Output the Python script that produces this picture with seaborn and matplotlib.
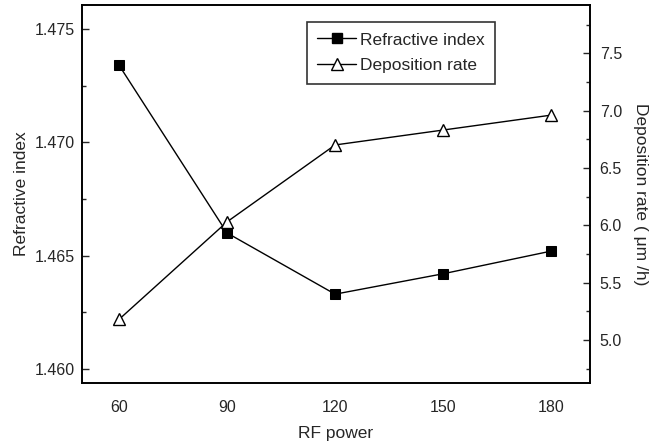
import matplotlib
matplotlib.use("Agg")
import matplotlib.pyplot as plt
import seaborn as sns
import pandas as pd
from matplotlib.ticker import MultipleLocator
from matplotlib.lines import Line2D

rf_power = [60, 90, 120, 150, 180]
refractive_index = [1.4734, 1.4660, 1.4633, 1.4642, 1.4652]
deposition_rate = [5.18, 6.03, 6.70, 6.83, 6.96]

sns.set_style("white")
plt.rcParams['font.family'] = ['Liberation Sans', 'DejaVu Sans']

df = pd.DataFrame({"RF power": rf_power, "ri": refractive_index, "dr": deposition_rate})

fig = plt.figure(figsize=(6.53, 4.48), dpi=100)
ax = fig.add_axes([82/653, 65/448, (590-82)/653, (383-5)/448])
ax2 = ax.twinx()

sns.lineplot(data=df, x="RF power", y="ri", ax=ax, color="black", lw=1,
             marker="s", markersize=7, markeredgecolor="black", markerfacecolor="black")
sns.lineplot(data=df, x="RF power", y="dr", ax=ax2, color="black", lw=1,
             marker="^", markersize=8, markeredgecolor="black", markerfacecolor="white",
             markeredgewidth=1)

ax.set_xlim(49.7, 190.8)
ax.set_ylim(1.45938, 1.47606)
ax2.set_ylim(4.625, 7.92)

ax.set_xticks(rf_power)
ax.xaxis.set_minor_locator(MultipleLocator(15))
ax.yaxis.set_major_locator(MultipleLocator(0.005))
ax.yaxis.set_minor_locator(MultipleLocator(0.0025))
ax.yaxis.set_major_formatter(matplotlib.ticker.FormatStrFormatter('%.3f'))
ax2.yaxis.set_major_locator(MultipleLocator(0.5))
ax2.yaxis.set_minor_locator(MultipleLocator(0.25))
ax2.set_yticks([5.0, 5.5, 6.0, 6.5, 7.0, 7.5])
ax2.yaxis.set_major_formatter(matplotlib.ticker.FormatStrFormatter('%.1f'))

for a in (ax, ax2):
    a.tick_params(which="major", direction="in", length=5, width=1, labelsize=11.5)
    a.tick_params(which="minor", direction="in", length=3, width=1)
    for s in a.spines.values():
        s.set_color("black")
        s.set_linewidth(1.2)
ax.tick_params(axis="x", pad=12)
ax.tick_params(axis="y", pad=5)
ax2.tick_params(axis="y", pad=7)

ax.set_xlabel("RF power", fontsize=12.5, labelpad=8)
ax.set_ylabel("Refractive index", fontsize=12.5)
ax2.set_ylabel("Deposition rate ( μm /h)", fontsize=12.5, rotation=270, labelpad=19)

handles = [
    Line2D([], [], color="black", lw=1, marker="s", markersize=7, markerfacecolor="black"),
    Line2D([], [], color="black", lw=1, marker="^", markersize=8, markerfacecolor="white"),
]
leg = ax.legend(handles, ["Refractive index", "Deposition rate"], loc="upper left",
                bbox_to_anchor=((307-82)/508, (383-22)/378), fontsize=12.5, frameon=True,
                fancybox=False, edgecolor="black", handlelength=2.2, handletextpad=0.25,
                borderpad=0.6, labelspacing=0.6, borderaxespad=0)
leg.get_frame().set_linewidth(1.2)

fig.savefig("out.png", dpi=100)
